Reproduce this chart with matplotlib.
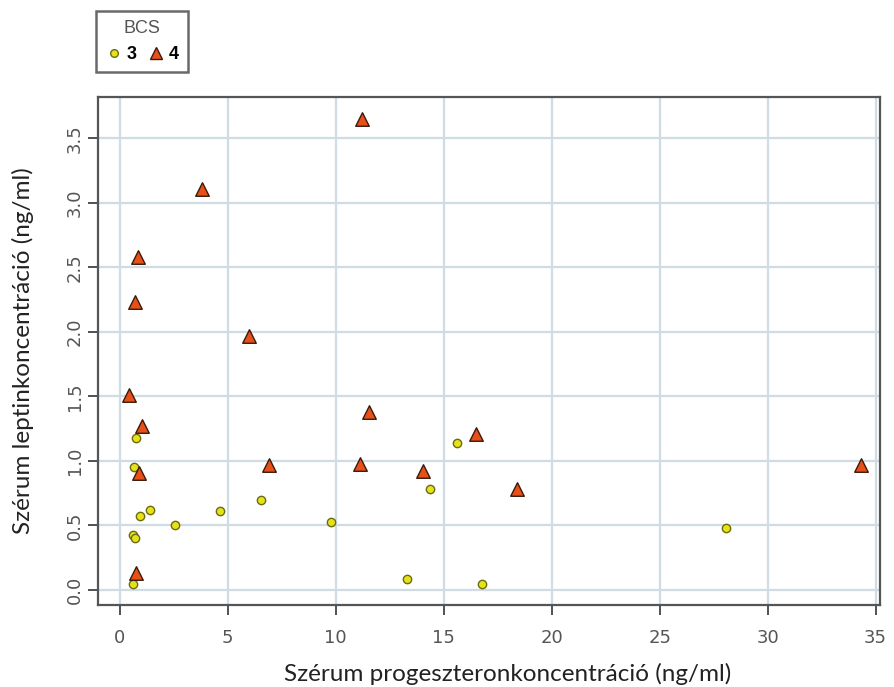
import matplotlib
matplotlib.use("Agg")
import matplotlib.pyplot as plt
from matplotlib.lines import Line2D

# BCS 3 (circles)
prog_bcs3 = [0.74, 0.66, 15.6, 14.38, 9.8, 13.3, 16.8, 28.05, 6.54, 1.39, 0.93, 4.66, 2.55, 0.62, 0.71, 0.63]
lept_bcs3 = [1.18, 0.95, 1.14, 0.78, 0.525, 0.083, 0.047, 0.48, 0.695, 0.62, 0.575, 0.615, 0.50, 0.43, 0.405, 0.047]

# BCS 4 (triangles)
prog_bcs4 = [11.2, 3.83, 0.85, 0.73, 5.99, 0.42, 11.53, 1.03, 16.5, 11.14, 14.03, 0.88, 6.9, 18.4, 34.3, 0.74]
lept_bcs4 = [3.65, 3.11, 2.58, 2.235, 1.97, 1.51, 1.38, 1.27, 1.21, 0.98, 0.925, 0.91, 0.97, 0.78, 0.97, 0.13]

x_ticks = [0, 5, 10, 15, 20, 25, 30, 35]
y_ticks = [0.0, 0.5, 1.0, 1.5, 2.0, 2.5, 3.0, 3.5]

fig = plt.figure(figsize=(8.94, 6.87), dpi=100)
ax = fig.add_axes([0.1096, 0.1194, 0.8747, 0.7394])

grid_col = "#d0dce3"
for xt in x_ticks:
    ax.axvline(xt, color=grid_col, lw=1.6, zorder=0)
for yt in y_ticks:
    ax.axhline(yt, color=grid_col, lw=1.6, zorder=0)

ax.scatter(prog_bcs3, lept_bcs3, s=36, marker="o", facecolor="#e6e21a",
           edgecolor="#6b6b10", linewidths=1.0, zorder=3)
ax.scatter(prog_bcs4, lept_bcs4, s=95, marker="^", facecolor="#e8501a",
           edgecolor="#3a1a0a", linewidths=1.0, zorder=3)

ax.set_xlim(-1.0, 35.2)
ax.set_ylim(-0.116, 3.82)
ax.set_xticks(x_ticks)
ax.set_yticks(y_ticks)
ax.set_xticklabels([str(t) for t in x_ticks], fontfamily="Liberation Sans Narrow", fontsize=13, color="#555555")
ax.set_yticklabels(["%.1f" % t for t in y_ticks], fontfamily="Liberation Sans Narrow", fontsize=13,
                   color="#555555", rotation=90, va="center")
ax.tick_params(axis="x", length=7, width=1.2, color="#333333", pad=10)
ax.tick_params(axis="y", length=7, width=1.2, color="#333333", pad=3)

for sp in ax.spines.values():
    sp.set_color("#555555")
    sp.set_linewidth(1.6)

ax.set_xlabel("Szérum progeszteronkoncentráció (ng/ml)", fontfamily="Lato", fontsize=17.5,
              color="#222222", labelpad=12, x=0.524)
ax.set_ylabel("Szérum leptinkoncentráció (ng/ml)", fontfamily="Lato", fontsize=17.5,
              color="#222222", labelpad=23)

handles = [
    Line2D([], [], marker="o", ls="", markersize=5.5, markerfacecolor="#e6e21a",
           markeredgecolor="#6b6b10", label="3"),
    Line2D([], [], marker="^", ls="", markersize=8, markerfacecolor="#e8501a",
           markeredgecolor="#3a1a0a", label="4"),
]
leg = fig.legend(handles=handles, title="BCS", ncol=2, loc="upper left",
                 bbox_to_anchor=(0.097, 0.997), frameon=True, fancybox=False,
                 handletextpad=0.2, columnspacing=0.6, handlelength=1.0,
                 borderpad=0.5, prop={"family": "Liberation Sans", "weight": "bold", "size": 13})
leg.get_title().set_fontfamily("Liberation Sans")
leg.get_title().set_fontsize(13)
leg.get_title().set_color("#555555")
leg.get_frame().set_edgecolor("#444444")
leg.get_frame().set_linewidth(1.8)

fig.savefig("out.png", dpi=100)
